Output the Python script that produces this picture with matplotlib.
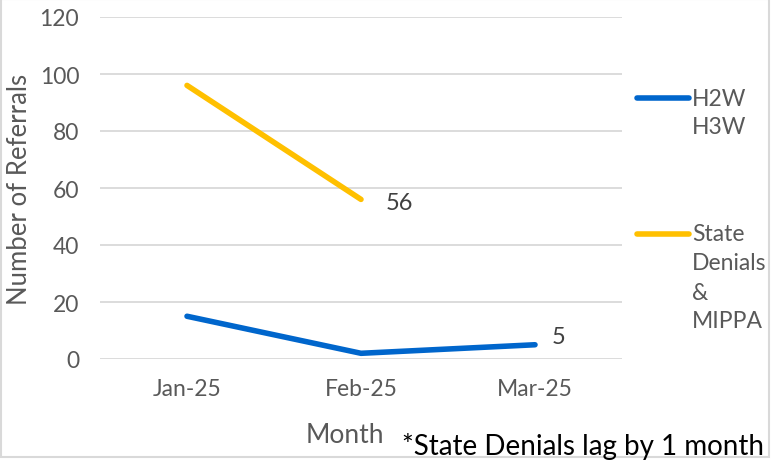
import matplotlib.pyplot as plt
from matplotlib.patches import Rectangle

# data
months = ['Jan-25', 'Feb-25', 'Mar-25']
h2w_h3w = [15, 2, 5]
state_denials = [96, 56]
legend_labels = [['H2W', 'H3W'], ['State', 'Denials', '&', 'MIPPA']]

plt.rcParams['font.family'] = ['Lato', 'DejaVu Sans']
grey = '#595959'
W, H = 781, 464

fig = plt.figure(figsize=(7.81, 4.64), dpi=100)
ax = fig.add_axes([100 / W, 1 - 360 / H, 522 / W, 342 / H])

x = list(range(len(months)))
ax.plot(x, h2w_h3w, color='#0066CC', lw=4, solid_capstyle='round')
ax.plot(x[:len(state_denials)], state_denials, color='#FFC000', lw=4, solid_capstyle='round')

# end labels
ax.annotate(str(h2w_h3w[-1]), (x[-1], h2w_h3w[-1]), xytext=(12, 6),
            textcoords='offset points', va='center', fontsize=17, color='#404040')
ax.annotate(str(state_denials[-1]), (x[len(state_denials) - 1], state_denials[-1]),
            xytext=(18, -2), textcoords='offset points', va='center', fontsize=17,
            color='#404040')

ax.set_xlim(-0.5, 2.5)
ax.set_ylim(0, 120)
ax.set_yticks(range(0, 121, 20))
ax.set_xticks(x)
ax.set_xticklabels(months)
ax.grid(axis='y', color='#d9d9d9', lw=1.3)
ax.set_axisbelow(True)
for s in ax.spines.values():
    s.set_visible(False)
ax.tick_params(length=0, labelsize=16.5, colors=grey)
ax.tick_params(axis='y', pad=15)
ax.tick_params(axis='x', pad=14)
fig.text(20 / W, 1 - 189 / H, 'Number of Referrals', fontsize=18.5, color=grey,
         rotation=90, ha='center', va='center')
fig.text(345 / W, 1 - 436 / H, 'Month', fontsize=19, color=grey, ha='center', va='center')

# legend drawn by hand
leg_colors = ['#0066CC', '#FFC000']
leg_y = [99, 235]
for col, lines, yp in zip(leg_colors, legend_labels, leg_y):
    yf = 1 - yp / H
    fig.add_artist(plt.Line2D([637 / W, 689 / W], [yf, yf], color=col, lw=4,
                              solid_capstyle='round'))
    for i, t in enumerate(lines):
        fig.text(692 / W, 1 - (yp + 29 * i) / H, t, fontsize=16.5, color=grey,
                 va='center')

fig.text(402 / W, 1 - 447 / H, '*State Denials lag by 1 month', fontsize=20,
         color='black', va='center')

fig.add_artist(Rectangle((0.5 / W, 1 - 458 / H), 768 / W, 458 / H, fill=False,
                         ec='#d9d9d9', lw=1.5, transform=fig.transFigure))

fig.savefig('out.png', dpi=100)
